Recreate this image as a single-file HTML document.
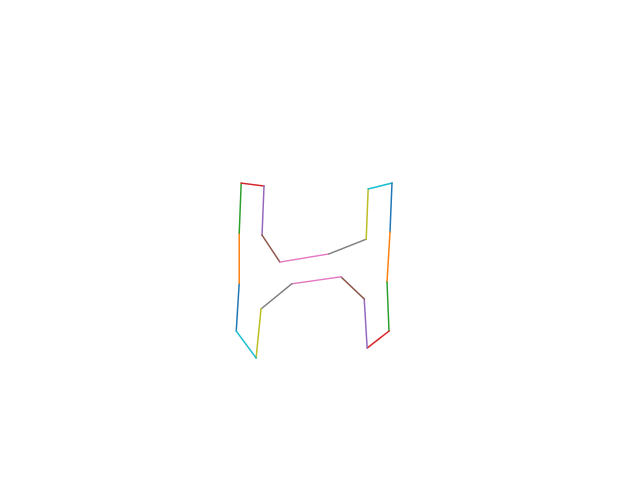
<!DOCTYPE html>
<html><head><meta charset="utf-8"><style>html,body{margin:0;padding:0;background:#fff}svg{display:block}</style></head>
<body>
<svg id="chart" width="640" height="480" xmlns="http://www.w3.org/2000/svg">
<rect width="640" height="480" fill="#fff"/>
<g id="marks"></g>
</svg>
<script>
const xs = [3.15,3.21,3.21,3.25,3.71,3.67,4.03,5.02,5.77,5.81,6.29,6.25,6.19,6.23,5.79,5.73,5.26,4.27,3.65,3.55];
const ys = [2.60,3.90,5.26,6.61,6.53,5.20,4.47,4.69,5.09,6.45,6.61,5.28,3.93,2.60,2.14,3.47,4.07,3.88,3.20,1.87];
const colors = ['#1f77b4','#ff7f0e','#2ca02c','#d62728','#9467bd','#8c564b','#e377c2','#7f7f7f','#bcbd22','#17becf'];
function sx(v){return 80+v*49.6;}
function sy(v){return 427-v*36.9;}
const g=document.getElementById('marks');
const n=xs.length;
for(let i=0;i<n;i++){
  const j=(i+1)%n;
  const l=document.createElementNS('http://www.w3.org/2000/svg','line');
  l.setAttribute('x1',sx(xs[i]));l.setAttribute('y1',sy(ys[i]));
  l.setAttribute('x2',sx(xs[j]));l.setAttribute('y2',sy(ys[j]));
  l.setAttribute('stroke',colors[i%10]);l.setAttribute('stroke-width','1.5');
  l.setAttribute('stroke-linecap','square');
  
  
  g.appendChild(l);
}
</script>
</body></html>
